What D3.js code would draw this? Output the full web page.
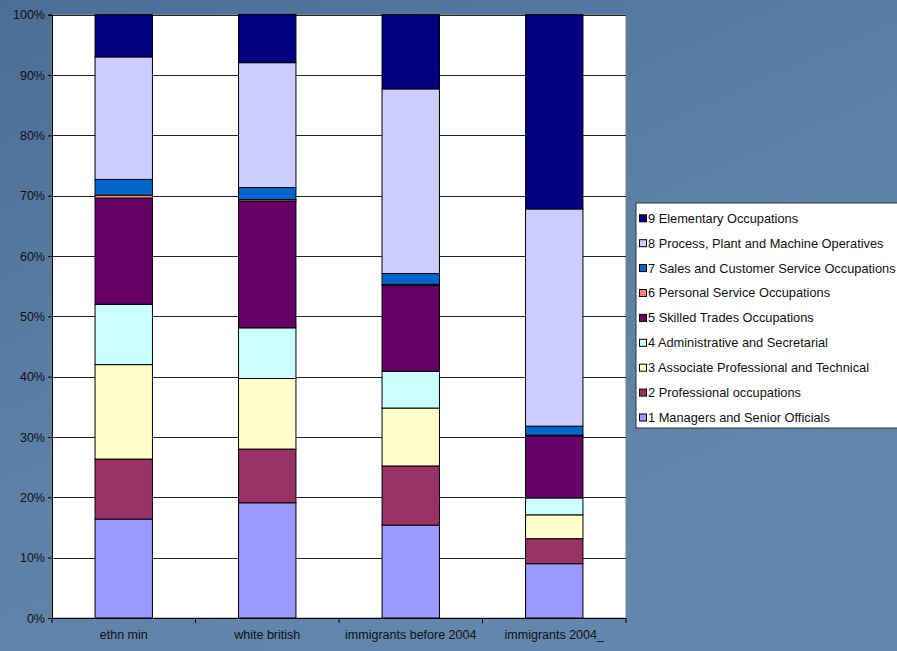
<!DOCTYPE html>
<html>
<head>
<meta charset="utf-8">
<script src="https://cdn.jsdelivr.net/npm/d3@7"></script>
<style>
  body { margin: 0; overflow: hidden; }
  text { font-family: "Liberation Sans", Arial, sans-serif; fill: #111; }
</style>
</head>
<body>
<div id="chart"></div>
<script>
// categories and occupation groups (bottom to top)
const categories = ["ethn min", "white british", "immigrants before 2004", "immigrants 2004_"];
const occupations = [
  "1 Managers and Senior Officials",
  "2 Professional occupations",
  "3 Associate Professional and Technical",
  "4 Administrative and Secretarial",
  "5 Skilled Trades Occupations",
  "6 Personal Service Occupations",
  "7 Sales and Customer Service Occupations",
  "8 Process, Plant and Machine Operatives",
  "9 Elementary Occupations"
];
const colors = ["#9999ff", "#993366", "#ffffcc", "#ccffff", "#660066", "#ff8080", "#0066cc", "#ccccff", "#000080"];

// share (%) per occupation, one value per category
const managers    = [16.4, 19.1, 15.4,  9.0];
const professional = [9.95, 8.9,  9.8,  4.15];
const associate   = [15.65, 11.7, 9.6,  3.95];
const admin       = [10.0,  8.4,  6.1,  2.8];
const skilled     = [17.6, 21.0, 14.2, 10.3];
const personal    = [0.5,  0.25, 0.2,  0.1];
const sales       = [2.6,  2.0,  1.8,  1.5];
const process     = [20.3, 20.7, 30.6, 36.0];
const elementary  = [7.0,  8.0, 12.3, 32.2];

const yTicks = [0, 10, 20, 30, 40, 50, 60, 70, 80, 90, 100];

const series = [managers, professional, associate, admin, skilled, personal, sales, process, elementary];
const rows = categories.map((c, i) => {
  const r = {cat: c};
  occupations.forEach((o, k) => r[o] = series[k][i]);
  return r;
});

const width = 897, height = 651;
const plot = {left: 52, right: 626, top: 14.7, bottom: 618};

const svg = d3.select("#chart")
  .append("svg")
    .attr("width", width)
    .attr("height", height);

// slide background
const defs = svg.append("defs");
const grad = defs.append("linearGradient")
  .attr("id", "bg").attr("x1", 0).attr("y1", 0).attr("x2", 0.6).attr("y2", 1);
grad.append("stop").attr("offset", "0%").attr("stop-color", "#4b6d96");
grad.append("stop").attr("offset", "55%").attr("stop-color", "#5d80a8");
grad.append("stop").attr("offset", "100%").attr("stop-color", "#6387ad");
svg.append("rect").attr("width", width).attr("height", height).attr("fill", "url(#bg)");

const x = d3.scaleBand()
  .domain(categories)
  .range([plot.left, plot.right])
  .padding(0);

const y = d3.scaleLinear()
  .domain([0, 100])
  .range([plot.bottom, plot.top]);

// plot area
svg.append("rect")
  .attr("x", plot.left).attr("y", plot.top)
  .attr("width", plot.right - plot.left)
  .attr("height", plot.bottom - plot.top)
  .attr("fill", "#fff")
  .attr("stroke", "#808080");

// gridlines
svg.append("g")
  .selectAll("line")
  .data(yTicks.slice(1))
  .join("line")
    .attr("x1", plot.left).attr("x2", plot.right)
    .attr("y1", d => Math.round(y(d)) + 0.5)
    .attr("y2", d => Math.round(y(d)) + 0.5)
    .attr("stroke", "#222")
    .attr("stroke-width", 1);

// stacked bars
const stack = d3.stack().keys(occupations);
const layers = stack(rows);
const barW = x.bandwidth() * 0.4;

svg.append("g")
  .selectAll("g")
  .data(layers)
  .join("g")
    .attr("fill", (d, i) => colors[i])
  .selectAll("rect")
  .data(d => d)
  .join("rect")
    .attr("x", d => x(d.data.cat) + (x.bandwidth() - barW) / 2)
    .attr("y", d => y(d[1]))
    .attr("width", barW)
    .attr("height", d => y(d[0]) - y(d[1]))
    .attr("stroke", "#000")
    .attr("stroke-width", 1);

// axes
const yAxis = svg.append("g")
  .attr("transform", `translate(${plot.left},0)`)
  .call(d3.axisLeft(y).tickValues(yTicks).tickSize(4).tickPadding(3).tickFormat(d => d + "%"));
yAxis.select(".domain").attr("stroke", "#000");
yAxis.selectAll("text").style("font-size", "12.5px").attr("fill", "#111");

const xAxis = svg.append("g")
  .attr("transform", `translate(0,${plot.bottom})`)
  .call(d3.axisBottom(x).tickSize(0).tickPadding(12));
xAxis.select(".domain").attr("stroke", "#000");
xAxis.selectAll("text").style("font-size", "12.5px").attr("fill", "#111");

// category separators below the axis
svg.append("g")
  .selectAll("line")
  .data(d3.range(categories.length + 1))
  .join("line")
    .attr("x1", i => plot.left + i * x.step())
    .attr("x2", i => plot.left + i * x.step())
    .attr("y1", plot.bottom)
    .attr("y2", plot.bottom + 5)
    .attr("stroke", "#000");

// legend
const legend = svg.append("g").attr("transform", "translate(636,203)");
legend.append("rect")
  .attr("width", 270).attr("height", 225)
  .attr("fill", "#fff")
  .attr("stroke", "#333");

const items = legend.selectAll("g.item")
  .data(occupations.map((o, i) => ({name: o, color: colors[i]})).reverse())
  .join("g")
    .attr("class", "item")
    .attr("transform", (d, i) => `translate(0,${15.3 + i * 24.9})`);
items.append("rect")
  .attr("x", 3.5).attr("y", -3.5)
  .attr("width", 7).attr("height", 7)
  .attr("fill", d => d.color)
  .attr("stroke", "#000");
items.append("text")
  .attr("x", 12)
  .attr("dy", "0.35em")
  .style("font-size", "12.8px")
  .text(d => d.name);
</script>
</body>
</html>
